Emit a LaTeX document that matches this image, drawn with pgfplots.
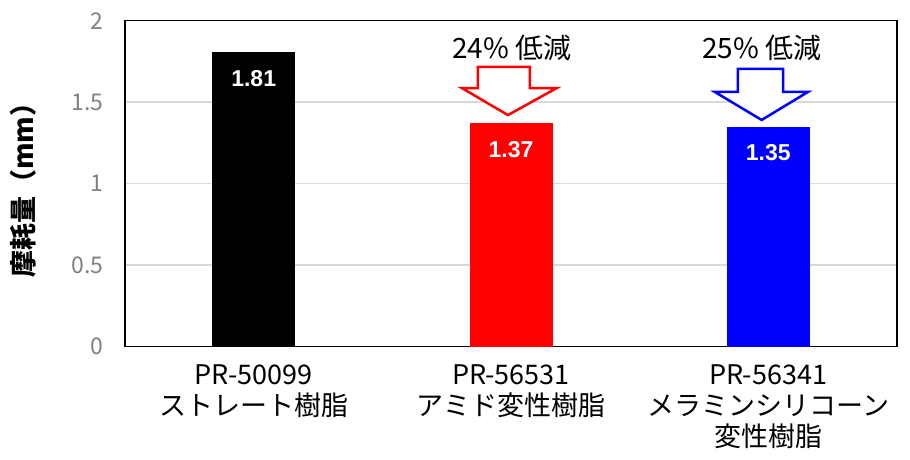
\documentclass[border=0pt]{standalone}
\usepackage{pgfplots}
\pgfplotsset{compat=1.18}
\usepackage{fontspec}
\setmainfont{Noto Sans CJK JP}
\newfontfamily\valfont{Liberation Sans}
\definecolor{tickgray}{RGB}{128,128,128}
\definecolor{gridgray}{RGB}{217,217,217}
\begin{document}
\begin{tikzpicture}
\useasboundingbox (-125pt,-112.3pt) rectangle (785pt,346.7pt);
\begin{axis}[
  at={(0pt,0pt)}, anchor=south west,
  scale only axis, width=772pt, height=326pt,
  xmin=-0.5, xmax=2.5, ymin=0, ymax=2,
  xtick={0,1,2},
  xticklabels={{PR-50099\\ストレート樹脂},{PR-56531\\アミド変性樹脂},{PR-56341\\メラミンシリコーン\\変性樹脂}},
  ytick={0,0.5,1,1.5,2},
  yticklabels={0,0.5,1,1.5,2},
  xticklabel style={align=center, font=\fontsize{27}{31}\selectfont, yshift=-14pt},
  yticklabel style={font=\fontsize{23}{26}\selectfont, text=tickgray, xshift=-18pt},
  ymajorgrids, grid style={gridgray, line width=1.5pt},
  axis line style={line width=1.5pt},
  major tick length=0pt,
  /pgf/number format/assume math mode=true,
  ylabel={摩耗量（mm）},
  ylabel style={at={(axis description cs:-0.132,0.5)}, anchor=center,
    font=\fontsize{27}{30}\selectfont\bfseries},
]
% wear values
\addplot[ybar, bar shift=0pt, bar width=83pt, fill=black, draw=none,
  nodes near coords, point meta=y,
  nodes near coords style={text=white, anchor=center, yshift=-27pt,
    font=\valfont\bfseries\fontsize{23}{25}\selectfont}]
  coordinates {(0,1.81)};
\addplot[ybar, bar shift=0pt, bar width=83pt, fill=red, draw=none,
  nodes near coords, point meta=y,
  nodes near coords style={text=white, anchor=center, yshift=-26pt,
    font=\valfont\bfseries\fontsize{23}{25}\selectfont}]
  coordinates {(1,1.37)};
\addplot[ybar, bar shift=0pt, bar width=83pt, fill=blue, draw=none,
  nodes near coords, point meta=y,
  nodes near coords style={text=white, anchor=center, yshift=-26pt,
    font=\valfont\bfseries\fontsize{23}{25}\selectfont}]
  coordinates {(2,1.35)};

% reduction arrows
\draw[red, line width=2.5pt, fill=white, line join=miter]
  (axis cs:0.871,1.716) -- (axis cs:1.073,1.716) -- (axis cs:1.073,1.587)
  -- (axis cs:1.178,1.587) -- (axis cs:0.988,1.421) -- (axis cs:0.809,1.587)
  -- (axis cs:0.871,1.587) -- cycle;
\draw[blue, line width=2.5pt, fill=white, line join=miter]
  (axis cs:1.882,1.704) -- (axis cs:2.057,1.704) -- (axis cs:2.057,1.563)
  -- (axis cs:2.154,1.563) -- (axis cs:1.974,1.391) -- (axis cs:1.792,1.563)
  -- (axis cs:1.882,1.563) -- cycle;
\node[font=\fontsize{28}{30}\selectfont] at (axis cs:1.003,1.833) {24\% 低減};
\node[font=\fontsize{28}{30}\selectfont] at (axis cs:1.975,1.833) {25\% 低減};
\end{axis}
\end{tikzpicture}
\end{document}
